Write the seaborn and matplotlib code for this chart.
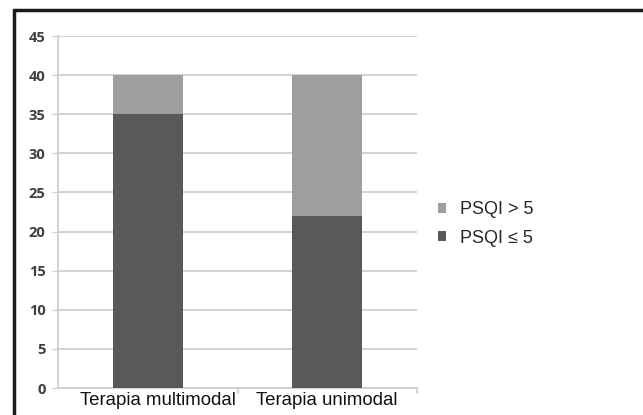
import matplotlib
matplotlib.use("Agg")
import matplotlib.pyplot as plt
import matplotlib.transforms as mtransforms
from matplotlib.lines import Line2D
from matplotlib.patches import Patch
import seaborn as sns
import pandas as pd

# Data
categories = ["Terapia multimodal", "Terapia unimodal"]
psqi_le5 = [35, 22]
psqi_gt5 = [5, 18]
series_labels = ["PSQI > 5", "PSQI \u2264 5"]
y_ticks = [0, 5, 10, 15, 20, 25, 30, 35, 40, 45]

dark = "#58595b"
light = "#9d9ea0"
grid_c = "#cfcfcf"

sns.set_theme(style="white")
plt.rcParams["font.family"] = ["Liberation Sans", "DejaVu Sans"]

df = pd.DataFrame({
    "cat": categories,
    "low": psqi_le5,
    "total": [a + b for a, b in zip(psqi_le5, psqi_gt5)],
})

fig = plt.figure(figsize=(6.43, 4.15), dpi=100)
ax = fig.add_axes([58 / 643, 1 - 388 / 415, (417 - 58) / 643, (388 - 36) / 415])

sns.barplot(data=df, x="cat", y="total", color=light, saturation=1,
            width=0.39, ax=ax, zorder=3, linewidth=0, edgecolor="none")
sns.barplot(data=df, x="cat", y="low", color=dark, saturation=1,
            width=0.39, ax=ax, zorder=4, linewidth=0, edgecolor="none")

ax.set_ylim(0, 45)
ax.set_xlim(-0.5, 1.5)
ax.set_yticks(y_ticks)
ax.set_yticklabels([str(t) for t in y_ticks], fontfamily="Open Sans",
                   fontweight="bold", fontsize=10.5, color="#3f3f3f")
ax.tick_params(axis="y", length=4, width=1, color=grid_c, pad=5, left=True)
ax.tick_params(axis="x", length=0, pad=3, labelsize=13.4, labelcolor="#111111")
ax.set_xlabel("")
ax.set_ylabel("")
ax.yaxis.grid(True, color=grid_c, linewidth=1.3, zorder=0)
ax.set_axisbelow(True)

# First category label sits a little right of its bar
first = ax.get_xticklabels()[0]
first.set_transform(first.get_transform() +
                    mtransforms.ScaledTranslation(10 / 100, 0, fig.dpi_scale_trans))

for side in ["top", "right"]:
    ax.spines[side].set_visible(False)
for side in ["left", "bottom"]:
    ax.spines[side].set_color(grid_c)
    ax.spines[side].set_linewidth(1.3)

# Category boundary ticks below the axis
for xb in [0.5, 1.5]:
    ax.plot([xb, xb], [0, -0.6], color=grid_c, lw=1.3, clip_on=False, zorder=1)

handles = [Patch(facecolor=light, edgecolor="none"),
           Patch(facecolor=dark, edgecolor="none")]
fig.legend(handles, series_labels, loc="center left",
           bbox_to_anchor=(422 / 643, 1 - 224 / 415), frameon=False,
           fontsize=13, handlelength=0.45, handleheight=0.45,
           handletextpad=0.75, labelspacing=0.62)

# Outer frame (top and left)
fig.add_artist(Line2D([14 / 643, 1.0], [1 - 10 / 415, 1 - 10 / 415],
                      color="#1a1a1a", lw=2.5, transform=fig.transFigure))
fig.add_artist(Line2D([14 / 643, 14 / 643], [0, 1 - 10 / 415],
                      color="#1a1a1a", lw=2.5, transform=fig.transFigure))

fig.savefig("out.png", dpi=100, facecolor="white")
